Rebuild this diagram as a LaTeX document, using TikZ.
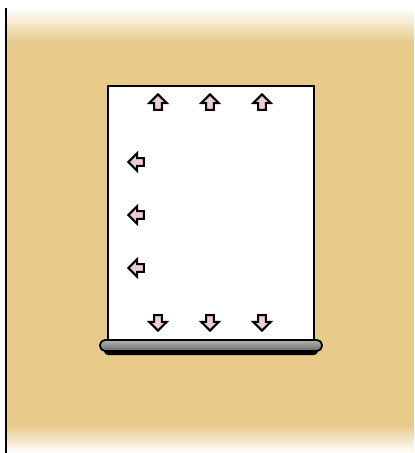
\documentclass[tikz,border=0pt]{standalone}
\usetikzlibrary{shapes.arrows}
\definecolor{wall}{HTML}{E8CB8A}
\definecolor{pinkfill}{HTML}{EBCDD3}
\tikzset{
  flow/.style={single arrow, draw=black, fill=pinkfill, line width=1.2pt,
    inner sep=1.6pt, single arrow head extend=2.8pt, minimum height=0.31cm}
}
\begin{document}
\begin{tikzpicture}[x=0.02cm, y=-0.02cm]
   \useasboundingbox (0,0) rectangle (414,453);
   % wall
   \fill[wall] (5,8) rectangle (414,453);
   \shade[top color=white, bottom color=wall] (5,8) rectangle (414,42);
   \shade[top color=wall, bottom color=white] (5,425) rectangle (414,453);
   \draw[line width=1.6pt] (6,8) -- (6,453);
   % sheet and rail
   \node[draw, fill=white, line width=1.4pt, minimum width=4.12cm,
         minimum height=5.16cm, inner sep=0pt] (sheet) at (211,215) {};
   \node[fill=black, rounded corners=0.08cm, minimum width=4.28cm,
         minimum height=0.2cm, inner sep=0pt] (shadow) at (211,350) {};
   \node[draw, line width=1pt, rounded corners=0.1cm, minimum width=4.44cm,
         minimum height=0.22cm, inner sep=0pt,
         top color=gray!60, bottom color=gray!85!black] (rail) at (211,345.5) {};
   % arrows
   \foreach \i/\x in {1/158, 2/210, 3/262} {
     \node[flow, shape border rotate=90] (up\i) at (\x,104) {};
     \node[flow, shape border rotate=270] (down\i) at (\x,321) {};
   }
   \foreach \i/\y in {1/162, 2/215, 3/268}
     \node[flow, shape border rotate=180] (left\i) at (138,\y) {};
\end{tikzpicture}
\end{document}
